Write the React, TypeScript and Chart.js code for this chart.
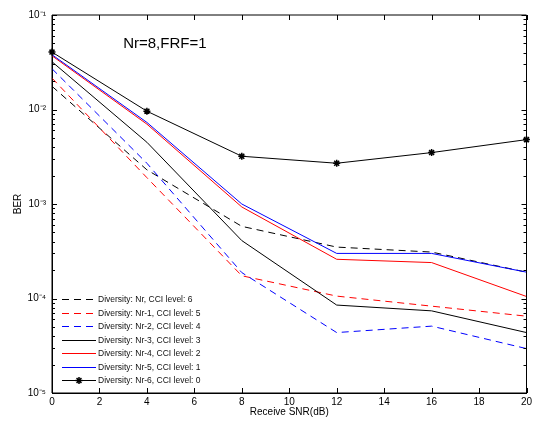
import React, { useEffect, useRef } from "react";
import { Chart, registerables } from "chart.js";

Chart.register(...registerables);

const snr = [0, 4, 8, 12, 16, 20];
const xTickValues = [0, 2, 4, 6, 8, 10, 12, 14, 16, 18, 20];
const yDecades = [1e-5, 1e-4, 1e-3, 1e-2, 1e-1];

const berNr = [0.0176, 0.0023, 0.00058, 0.00035, 0.00031, 0.00019];
const berNr1 = [0.0215, 0.0019, 0.000174, 0.000106, 0.000083, 0.000065];
const berNr2 = [0.027, 0.0027, 0.000188, 0.0000436, 0.000051, 0.0000295];
const berNr3 = [0.032, 0.0045, 0.00041, 0.0000852, 0.000074, 0.0000436];
const berNr4 = [0.037, 0.007, 0.00093, 0.00026, 0.00024, 0.000105];
const berNr5 = [0.038, 0.0073, 0.001, 0.0003, 0.0003, 0.00019];
const berNr6 = [0.0405, 0.0096, 0.0032, 0.0027, 0.0035, 0.0048];

const seriesLabels = [
  "Diversity: Nr, CCI level: 6",
  "Diversity: Nr-1, CCI level: 5",
  "Diversity: Nr-2, CCI level: 4",
  "Diversity: Nr-3, CCI level: 3",
  "Diversity: Nr-4, CCI level: 2",
  "Diversity: Nr-5, CCI level: 1",
  "Diversity: Nr-6, CCI level: 0",
];
const seriesValues = [berNr, berNr1, berNr2, berNr3, berNr4, berNr5, berNr6];
const seriesColors = ["#000000", "#ff0000", "#0000ff", "#000000", "#ff0000", "#0000ff", "#000000"];
const seriesDashed = [true, true, true, false, false, false, false];
const seriesMarker = [false, false, false, false, false, false, true];

const plotTitle = "Nr=8,FRF=1";
const titleAt = { x: 3, y: 0.05 };

const FONT = "'Liberation Sans', Arial, Helvetica, sans-serif";
const DASH = [7, 5];

const supMap: Record<string, string> = {
  "-": "\u207B", "0": "\u2070", "1": "\u00B9", "2": "\u00B2", "3": "\u00B3",
  "4": "\u2074", "5": "\u2075", "6": "\u2076", "7": "\u2077", "8": "\u2078", "9": "\u2079",
};
const toSup = (s: string) => s.split("").map((c) => supMap[c] || c).join("");

const framePlugin = {
  id: "frameTicks",
  afterDatasetsDraw(chart: any) {
    const { ctx, chartArea, scales } = chart;
    const { left, right, top, bottom } = chartArea;
    const xs = scales.x;
    const ys = scales.y;
    ctx.save();
    ctx.strokeStyle = "#000";
    ctx.lineWidth = 1;
    ctx.beginPath();
    ctx.rect(left, top, right - left, bottom - top);
    ctx.stroke();
    ctx.beginPath();
    xTickValues.forEach((v) => {
      const px = Math.round(xs.getPixelForValue(v)) + 0.5;
      ctx.moveTo(px, bottom);
      ctx.lineTo(px, bottom - 5);
      ctx.moveTo(px, top);
      ctx.lineTo(px, top + 5);
    });
    yDecades.forEach((d, i) => {
      const py = Math.round(ys.getPixelForValue(d)) + 0.5;
      ctx.moveTo(left, py);
      ctx.lineTo(left + 5, py);
      ctx.moveTo(right, py);
      ctx.lineTo(right - 5, py);
      if (i < yDecades.length - 1) {
        for (let m = 2; m <= 9; m++) {
          const pm = Math.round(ys.getPixelForValue(m * d)) + 0.5;
          ctx.moveTo(left, pm);
          ctx.lineTo(left + 3, pm);
          ctx.moveTo(right, pm);
          ctx.lineTo(right - 3, pm);
        }
      }
    });
    ctx.stroke();

    ctx.fillStyle = "#000";
    ctx.font = `15px ${FONT}`;
    ctx.textAlign = "left";
    ctx.textBaseline = "middle";
    ctx.fillText(plotTitle, xs.getPixelForValue(titleAt.x), ys.getPixelForValue(titleAt.y));
    ctx.restore();
  },
  afterDraw(chart: any) {
    const { ctx, chartArea } = chart;
    const { left, bottom } = chartArea;
    const rowH = 13.5;
    const firstY = bottom - 94;
    const lx0 = left + 10;
    const lx1 = left + 44;
    ctx.save();
    chart.data.datasets.forEach((ds: any, i: number) => {
      const y = Math.round(firstY + i * rowH) + 0.5;
      ctx.strokeStyle = ds.borderColor;
      ctx.lineWidth = 1;
      ctx.setLineDash(ds.borderDash || []);
      ctx.beginPath();
      ctx.moveTo(lx0, y);
      ctx.lineTo(lx1, y);
      ctx.stroke();
      ctx.setLineDash([]);
      if (ds.pointRadius > 0) {
        const cx = (lx0 + lx1) / 2;
        ctx.lineWidth = 1.5;
        ctx.beginPath();
        const r = 3.5;
        ctx.moveTo(cx - r, y); ctx.lineTo(cx + r, y);
        ctx.moveTo(cx, y - r); ctx.lineTo(cx, y + r);
        const d = r * 0.7;
        ctx.moveTo(cx - d, y - d); ctx.lineTo(cx + d, y + d);
        ctx.moveTo(cx - d, y + d); ctx.lineTo(cx + d, y - d);
        ctx.stroke();
      }
      ctx.fillStyle = "#111";
      ctx.font = `8.5px ${FONT}`;
      ctx.textAlign = "left";
      ctx.textBaseline = "middle";
      ctx.fillText(ds.label, lx1 + 2, y);
    });
    ctx.restore();
  },
};

export default function App() {
  const canvasRef = useRef<HTMLCanvasElement | null>(null);

  useEffect(() => {
    if (!canvasRef.current) return;
    const datasets = seriesLabels.map((label, i) => ({
      label,
      data: snr.map((x, j) => ({ x, y: seriesValues[i][j] })),
      borderColor: seriesColors[i],
      backgroundColor: seriesColors[i],
      borderWidth: 1,
      borderDash: seriesDashed[i] ? DASH : [],
      pointRadius: seriesMarker[i] ? 3.5 : 0,
      pointStyle: "star",
      pointBorderWidth: 1.5,
      pointBorderColor: seriesColors[i],
      tension: 0,
      fill: false,
      clip: false,
      order: seriesLabels.length - i,
    }));
    const chart = new Chart(canvasRef.current, {
      type: "line",
      data: { datasets },
      options: {
        animation: false,
        responsive: true,
        maintainAspectRatio: false,
        layout: { padding: { left: 0, top: 7, right: 5, bottom: 0 } },
        plugins: {
          legend: { display: false },
          tooltip: { enabled: false },
        },
        scales: {
          x: {
            type: "linear",
            min: 0,
            max: 20,
            afterBuildTicks: (s: any) => {
              s.ticks = xTickValues.map((v) => ({ value: v }));
            },
            afterFit: (s: any) => {
              s.height = 29;
              s.paddingLeft = 0;
              s.paddingRight = 0;
            },
            grid: { display: false, drawTicks: false },
            border: { display: true, color: "#000", width: 1 },
            ticks: {
              padding: 3,
              color: "#000",
              font: { family: FONT, size: 10 },
              maxRotation: 0,
              autoSkip: false,
            },
            title: {
              display: true,
              text: "Receive SNR(dB)",
              color: "#000",
              font: { family: FONT, size: 10 },
              padding: { top: 4, bottom: 4 },
            },
          },
          y: {
            type: "logarithmic",
            min: 1e-5,
            max: 1e-1,
            afterBuildTicks: (s: any) => {
              s.ticks = yDecades.map((v) => ({ value: v }));
            },
            afterFit: (s: any) => {
              s.width = 44;
              s.paddingTop = 0;
              s.paddingBottom = 0;
            },
            grid: { display: false, drawTicks: false },
            border: { display: true, color: "#000", width: 1 },
            ticks: {
              padding: 6,
              color: "#000",
              font: { family: FONT, size: 10 },
              autoSkip: false,
              callback: (v: any) => "10" + toSup(String(Math.round(Math.log10(Number(v))))),
            },
            title: {
              display: true,
              text: "BER",
              color: "#000",
              font: { family: FONT, size: 10 },
              padding: { top: 4, bottom: 4 },
            },
          },
        },
      },
      plugins: [framePlugin],
    } as any);
    return () => chart.destroy();
  }, []);

  return (
    <div style={{ position: "relative", width: 524, height: 414 }}>
      <canvas ref={canvasRef} />
    </div>
  );
}
